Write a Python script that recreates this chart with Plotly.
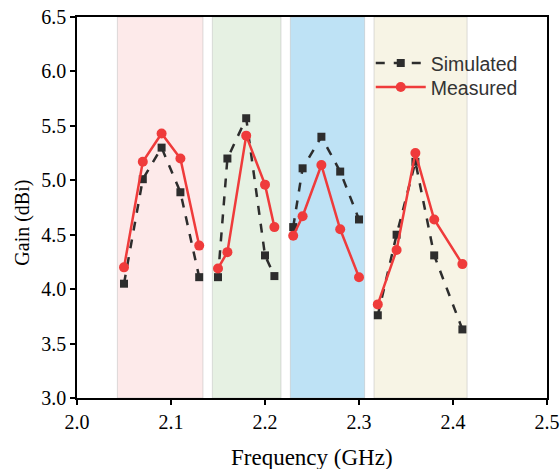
import plotly.graph_objects as go

# Frequency points (GHz), grouped by band; None separates bands
freq_b1 = [2.05, 2.07, 2.09, 2.11, 2.13]
freq_b2 = [2.15, 2.16, 2.18, 2.20, 2.21]
freq_b3 = [2.23, 2.24, 2.26, 2.28, 2.30]
freq_b4 = [2.32, 2.34, 2.36, 2.38, 2.41]

sim_b1 = [4.05, 5.01, 5.30, 4.89, 4.11]
sim_b2 = [4.11, 5.20, 5.57, 4.31, 4.12]
sim_b3 = [4.57, 5.11, 5.40, 5.08, 4.64]
sim_b4 = [3.76, 4.50, 5.17, 4.31, 3.63]

meas_b1 = [4.20, 5.17, 5.43, 5.20, 4.40]
meas_b2 = [4.19, 4.34, 5.41, 4.96, 4.57]
meas_b3 = [4.49, 4.67, 5.14, 4.55, 4.11]
meas_b4 = [3.86, 4.36, 5.25, 4.64, 4.23]

band_ranges = [(2.043, 2.134), (2.144, 2.217), (2.227, 2.306), (2.316, 2.415)]
band_colors = ["#fdeaea", "#e6f1e3", "#bee2f5", "#f7f4e5"]

x_ticks = [2.0, 2.1, 2.2, 2.3, 2.4, 2.5]
y_ticks = [3.0, 3.5, 4.0, 4.5, 5.0, 5.5, 6.0, 6.5]
x_ticktext = ["2.0", "2.1", "2.2", "2.3", "2.4", "2.5"]
y_ticktext = ["3.0", "3.5", "4.0", "4.5", "5.0", "5.5", "6.0", "6.5"]

x_title = "Frequency (GHz)"
y_title = "Gain (dBi)"


def join(*groups):
    out = []
    for i, g in enumerate(groups):
        if i:
            out.append(None)
        out.extend(g)
    return out


freq = join(freq_b1, freq_b2, freq_b3, freq_b4)
sim = join(sim_b1, sim_b2, sim_b3, sim_b4)
meas = join(meas_b1, meas_b2, meas_b3, meas_b4)

fig = go.Figure()
fig.add_trace(go.Scatter(
    x=freq, y=sim, name="Simulated", mode="lines+markers",
    line=dict(color="#2d2d2d", width=2.5, dash="dash"),
    marker=dict(symbol="square", size=8, color="#2d2d2d"),
    connectgaps=False, legend="legend",
))
fig.add_trace(go.Scatter(
    x=freq, y=meas, name="Measured", mode="lines+markers",
    line=dict(color="#ef3b3b", width=2.5),
    marker=dict(symbol="circle", size=10, color="#ef3b3b"),
    connectgaps=False, legend="legend2",
))

for (x0, x1), c in zip(band_ranges, band_colors):
    fig.add_shape(type="rect", xref="x", yref="y", x0=x0, x1=x1, y0=3.0, y1=6.5,
                  fillcolor=c, line=dict(color="rgba(190,190,190,0.5)", width=1),
                  layer="below")

serif = "Times New Roman"
legend_font = dict(family="Liberation Sans", size=19.5, color="#333333")
fig.update_layout(
    width=560, height=469,
    margin=dict(l=77, r=13, t=17, b=71),
    paper_bgcolor="white", plot_bgcolor="white",
    showlegend=True,
    legend=dict(x=0.625, y=0.8785, xanchor="left", yanchor="middle",
                bgcolor="rgba(0,0,0,0)", font=legend_font, itemwidth=50),
    legend2=dict(x=0.625, y=0.8155, xanchor="left", yanchor="middle",
                 bgcolor="rgba(0,0,0,0)", font=legend_font, itemwidth=50),
    font=dict(family=serif, color="black"),
)
fig.add_annotation(text=x_title, xref="paper", yref="paper", x=0.5, y=-0.157,
                   xanchor="center", yanchor="middle", showarrow=False,
                   font=dict(family=serif, size=23, color="black"))
fig.add_annotation(text=y_title, xref="paper", yref="paper", x=-0.115, y=0.46,
                   xanchor="center", yanchor="middle", showarrow=False, textangle=-90,
                   font=dict(family=serif, size=20, color="black"))
fig.update_xaxes(
    range=[2.0, 2.5], tickvals=x_ticks, ticktext=x_ticktext,
    showgrid=False, zeroline=False, automargin=False, ticklabeloverflow="allow",
    showline=True, linecolor="black", linewidth=1.5, mirror=True,
    ticks="outside", ticklen=5, tickwidth=1.5, tickcolor="black",
    tickfont=dict(family=serif, size=20, color="black"),
)
fig.update_yaxes(
    range=[3.0, 6.5], tickvals=y_ticks, ticktext=y_ticktext,
    showgrid=False, zeroline=False, automargin=False, ticklabeloverflow="allow",
    showline=True, linecolor="black", linewidth=1.5, mirror=True,
    ticks="outside", ticklen=5, tickwidth=1.5, tickcolor="black",
    tickfont=dict(family=serif, size=20, color="black"),
)

fig.write_html("out.html", config={"displayModeBar": False},
               post_script="document.body.style.margin='0';")
